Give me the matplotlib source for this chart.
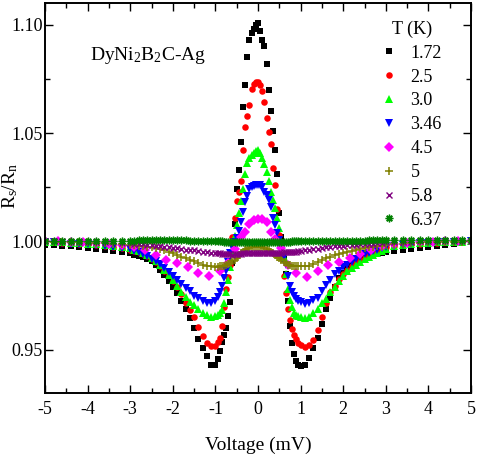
import matplotlib
matplotlib.use('Agg')
import matplotlib.pyplot as plt
from matplotlib.ticker import MultipleLocator, FormatStrFormatter

plt.rcParams['font.family'] = ['Liberation Serif', 'DejaVu Serif']
plt.rcParams['mathtext.fontset'] = 'custom'
plt.rcParams['mathtext.rm'] = 'Liberation Serif'
plt.rcParams['mathtext.it'] = 'Liberation Serif:italic'
plt.rcParams['axes.unicode_minus'] = False

# ---------------- data ----------------
voltage = [-5.0, -4.8, -4.6, -4.4, -4.2, -4.0, -3.8, -3.6, -3.4, -3.2,
           -3.0, -2.9, -2.8, -2.7, -2.6, -2.5, -2.4, -2.3, -2.2, -2.1, -2.0, -1.9, -1.8, -1.7, -1.6, -1.5, -1.4, -1.3, -1.2, -1.1, -1.0,
           -0.95, -0.9, -0.85, -0.8, -0.75, -0.7, -0.65, -0.6, -0.55, -0.5, -0.45, -0.4, -0.35, -0.3, -0.25, -0.2, -0.15, -0.1, -0.05, 0.0,
           0.05, 0.1, 0.15, 0.2, 0.25, 0.3, 0.35, 0.4, 0.45, 0.5, 0.55, 0.6, 0.65, 0.7, 0.75, 0.8, 0.85, 0.9, 0.95,
           1.0, 1.1, 1.2, 1.3, 1.4, 1.5, 1.6, 1.7, 1.8, 1.9, 2.0, 2.1, 2.2, 2.3, 2.4, 2.5, 2.6, 2.7, 2.8, 2.9, 3.0,
           3.2, 3.4, 3.6, 3.8, 4.0, 4.2, 4.4, 4.6, 4.8, 5.0]

voltage_sparse = [-5.0, -4.7, -4.4, -4.1, -3.8, -3.5, -3.2, -2.9, -2.65, -2.4, -2.15, -1.9, -1.65, -1.4, -1.15, -0.9, -0.7, -0.55,
                  -0.4, -0.3, -0.2, -0.1, 0.0, 0.1, 0.2, 0.3, 0.4,
                  0.55, 0.7, 0.9, 1.15, 1.4, 1.65, 1.9, 2.15, 2.4, 2.65, 2.9, 3.2, 3.5, 3.8, 4.1, 4.4, 4.7, 5.0]

r_172 = [0.9985, 0.9981, 0.9979, 0.9977, 0.9973, 0.9970, 0.9966, 0.9962, 0.9957, 0.9951,
         0.9944, 0.9938, 0.9932, 0.9926, 0.9920, 0.9907, 0.9890, 0.9870, 0.9845, 0.9818, 0.9790, 0.9760, 0.9725, 0.9690, 0.9648, 0.9600, 0.9550, 0.9510, 0.9470, 0.9430, 0.9430,
         0.9455, 0.9495, 0.9535, 0.9570, 0.9600, 0.9655, 0.9720, 0.9900, 1.0080, 1.0240, 1.0330, 1.0460, 1.0620, 1.0720, 1.0850, 1.0930, 1.0960, 1.0980, 1.1000, 1.1010,
         1.0970, 1.0930, 1.0900, 1.0820, 1.0700, 1.0600, 1.0510, 1.0420, 1.0310, 1.0130, 1.0020, 0.9920, 0.9850, 0.9725, 0.9610, 0.9530, 0.9480, 0.9450, 0.9430,
         0.9425, 0.9430, 0.9460, 0.9510, 0.9555, 0.9620, 0.9690, 0.9740, 0.9790, 0.9830, 0.9855, 0.9875, 0.9890, 0.9905, 0.9918, 0.9927, 0.9934, 0.9939, 0.9943, 0.9946, 0.9949,
         0.9954, 0.9959, 0.9963, 0.9968, 0.9974, 0.9979, 0.9984, 0.9989, 0.9994, 0.9998]

r_25 = [0.9997, 0.9995, 0.9993, 0.9991, 0.9989, 0.9987, 0.9984, 0.9980, 0.9975, 0.9969,
        0.9962, 0.9956, 0.9950, 0.9942, 0.9932, 0.9918, 0.9905, 0.9885, 0.9865, 0.9843, 0.9818, 0.9790, 0.9755, 0.9715, 0.9682, 0.9650, 0.9605, 0.9565, 0.9530, 0.9515, 0.9518,
        0.9535, 0.9555, 0.9610, 0.9695, 0.9780, 0.9835, 0.9890, 1.0020, 1.0110, 1.0185, 1.0230, 1.0280, 1.0420, 1.0530, 1.0580, 1.0630, 1.0705, 1.0725, 1.0735, 1.0735,
        1.0720, 1.0695, 1.0645, 1.0570, 1.0505, 1.0450, 1.0340, 1.0260, 1.0150, 1.0030, 0.9930, 0.9840, 0.9760, 0.9690, 0.9635, 0.9595, 0.9570, 0.9550, 0.9530,
        0.9520, 0.9512, 0.9520, 0.9545, 0.9590, 0.9650, 0.9715, 0.9765, 0.9795, 0.9825, 0.9850, 0.9870, 0.9885, 0.9900, 0.9912, 0.9925, 0.9938, 0.9950, 0.9960, 0.9967, 0.9972,
        0.9980, 0.9985, 0.9988, 0.9990, 0.9992, 0.9994, 0.9995, 0.9997, 0.9998, 1.0000]

r_30 = [0.9998, 0.9997, 0.9996, 0.9994, 0.9992, 0.9990, 0.9988, 0.9985, 0.9980, 0.9975,
        0.9968, 0.9962, 0.9955, 0.9947, 0.9937, 0.9925, 0.9910, 0.9890, 0.9868, 0.9845, 0.9820, 0.9793, 0.9768, 0.9745, 0.9720, 0.9705, 0.9690, 0.9670, 0.9660, 0.9650, 0.9655,
        0.9660, 0.9670, 0.9685, 0.9715, 0.9765, 0.9820, 0.9880, 0.9950, 1.0025, 1.0075, 1.0130, 1.0185, 1.0240, 1.0310, 1.0360, 1.0385, 1.0400, 1.0410, 1.0415, 1.0420,
        1.0410, 1.0385, 1.0355, 1.0320, 1.0280, 1.0230, 1.0190, 1.0153, 1.0110, 1.0060, 1.0000, 0.9930, 0.9850, 0.9780, 0.9730, 0.9695, 0.9670, 0.9660, 0.9655,
        0.9650, 0.9648, 0.9650, 0.9670, 0.9690, 0.9715, 0.9735, 0.9765, 0.9790, 0.9815, 0.9840, 0.9862, 0.9878, 0.9890, 0.9905, 0.9917, 0.9928, 0.9938, 0.9948, 0.9957, 0.9965,
        0.9977, 0.9985, 0.9989, 0.9991, 0.9993, 0.9995, 0.9996, 0.9997, 0.9998, 1.0000]

r_346 = [0.9996, 0.9995, 0.9993, 0.9990, 0.9988, 0.9986, 0.9983, 0.9980, 0.9975, 0.9970,
         0.9963, 0.9957, 0.9950, 0.9942, 0.9932, 0.9920, 0.9908, 0.9895, 0.9878, 0.9860, 0.9840, 0.9820, 0.9805, 0.9785, 0.9770, 0.9750, 0.9737, 0.9725, 0.9717, 0.9715, 0.9725,
         0.9745, 0.9765, 0.9795, 0.9830, 0.9865, 0.9905, 0.9945, 0.9975, 0.9995, 1.0015, 1.0050, 1.0090, 1.0135, 1.0180, 1.0210, 1.0240, 1.0250, 1.0257, 1.0260, 1.0260,
         1.0258, 1.0250, 1.0230, 1.0214, 1.0190, 1.0160, 1.0110, 1.0075, 1.0040, 1.0005, 0.9970, 0.9930, 0.9890, 0.9840, 0.9795, 0.9765, 0.9750, 0.9735, 0.9725,
         0.9720, 0.9713, 0.9715, 0.9727, 0.9740, 0.9770, 0.9797, 0.9820, 0.9850, 0.9865, 0.9880, 0.9893, 0.9905, 0.9917, 0.9930, 0.9940, 0.9947, 0.9955, 0.9962, 0.9968, 0.9973,
         0.9980, 0.9985, 0.9989, 0.9991, 0.9993, 0.9995, 0.9996, 0.9997, 0.9998, 1.0000]

r_45 = [1.0000, 1.0000, 0.9998, 0.9995, 0.9993, 0.9990, 0.9985, 0.9975, 0.9960, 0.9937, 0.9915, 0.9898, 0.9880, 0.9855, 0.9838, 0.9862, 0.9900, 0.9965,
        1.0020, 1.0045, 1.0080, 1.0098, 1.0105, 1.0103, 1.0088, 1.0045, 1.0010,
        0.9968, 0.9890, 0.9855, 0.9836, 0.9865, 0.9890, 0.9905, 0.9922, 0.9942, 0.9960, 0.9978, 0.9988, 0.9993, 0.9996, 0.9998, 1.0000, 1.0000, 1.0000]

r_5 = [1.0000, 0.9999, 0.9998, 0.9997, 0.9996, 0.9995, 0.9993, 0.9992, 0.9990, 0.9988,
       0.9985, 0.9983, 0.9980, 0.9977, 0.9975, 0.9972, 0.9968, 0.9964, 0.9960, 0.9953, 0.9945, 0.9938, 0.9930, 0.9923, 0.9915, 0.9908, 0.9900, 0.9893, 0.9888, 0.9885, 0.9883,
       0.9883, 0.9884, 0.9886, 0.9888, 0.9890, 0.9895, 0.9900, 0.9908, 0.9915, 0.9925, 0.9935, 0.9945, 0.9953, 0.9960, 0.9965, 0.9970, 0.9973, 0.9975, 0.9976, 0.9976,
       0.9975, 0.9973, 0.9970, 0.9966, 0.9960, 0.9953, 0.9946, 0.9938, 0.9930, 0.9922, 0.9915, 0.9905, 0.9898, 0.9893, 0.9890, 0.9887, 0.9885, 0.9884, 0.9884,
       0.9884, 0.9885, 0.9888, 0.9895, 0.9905, 0.9913, 0.9922, 0.9930, 0.9936, 0.9940, 0.9945, 0.9951, 0.9956, 0.9960, 0.9965, 0.9969, 0.9973, 0.9976, 0.9979, 0.9980, 0.9982,
       0.9986, 0.9989, 0.9991, 0.9993, 0.9995, 0.9996, 0.9997, 0.9998, 0.9999, 1.0000]

r_58 = [1.0000, 1.0000, 1.0000, 0.9999, 0.9999, 0.9998, 0.9997, 0.9996, 0.9995, 0.9993,
        0.9991, 0.9990, 0.9988, 0.9986, 0.9984, 0.9982, 0.9980, 0.9978, 0.9975, 0.9972, 0.9970, 0.9968, 0.9965, 0.9962, 0.9960, 0.9958, 0.9955, 0.9953, 0.9950, 0.9948, 0.9946,
        0.9945, 0.9944, 0.9943, 0.9942, 0.9941, 0.9940, 0.9940, 0.9939, 0.9940, 0.9941, 0.9942, 0.9943, 0.9944, 0.9945, 0.9945, 0.9946, 0.9946, 0.9946, 0.9946, 0.9946,
        0.9946, 0.9946, 0.9946, 0.9946, 0.9946, 0.9946, 0.9946, 0.9946, 0.9947, 0.9947, 0.9948, 0.9949, 0.9950, 0.9950, 0.9951, 0.9952, 0.9953, 0.9953, 0.9954,
        0.9955, 0.9958, 0.9960, 0.9963, 0.9966, 0.9969, 0.9972, 0.9975, 0.9977, 0.9978, 0.9980, 0.9982, 0.9983, 0.9985, 0.9986, 0.9988, 0.9989, 0.9990, 0.9992, 0.9993, 0.9995,
        0.9997, 0.9998, 0.9999, 1.0000, 1.0000, 1.0000, 1.0000, 1.0000, 1.0000, 1.0000]

r_637 = [1.0002, 1.0002, 1.0002, 1.0003, 1.0003, 1.0003, 1.0003, 1.0003, 1.0003, 1.0003,
         1.0003, 1.0003, 1.0004, 1.0004, 1.0004, 1.0004, 1.0004, 1.0004, 1.0004, 1.0004, 1.0004, 1.0004, 1.0004, 1.0004, 1.0003, 1.0003, 1.0003, 1.0002, 1.0002, 1.0001, 1.0001,
         1.0001, 1.0000, 1.0000, 0.9999, 0.9999, 0.9998, 0.9998, 0.9997, 0.9997, 0.9996, 0.9996, 0.9996, 0.9995, 0.9995, 0.9995, 0.9995, 0.9995, 0.9995, 0.9995, 0.9995,
         0.9995, 0.9995, 0.9995, 0.9995, 0.9995, 0.9995, 0.9996, 0.9996, 0.9996, 0.9997, 0.9997, 0.9998, 0.9998, 0.9999, 0.9999, 1.0000, 1.0000, 1.0001, 1.0001,
         1.0001, 1.0002, 1.0002, 1.0003, 1.0003, 1.0003, 1.0003, 1.0003, 1.0003, 1.0003, 1.0003, 1.0003, 1.0003, 1.0003, 1.0003, 1.0003, 1.0004, 1.0004, 1.0004, 1.0004, 1.0004,
         1.0004, 1.0004, 1.0005, 1.0005, 1.0006, 1.0006, 1.0006, 1.0007, 1.0007, 1.0008]

temperatures = ['1.72', '2.5', '3.0', '3.46', '4.5', '5', '5.8', '6.37']
x_ticks = [-5, -4, -3, -2, -1, 0, 1, 2, 3, 4, 5]
y_ticks = [0.95, 1.00, 1.05, 1.10]

# ---------------- plot ----------------
fig = plt.figure(figsize=(4.79, 4.58), dpi=100)
ax = fig.add_axes([45 / 479, 1 - 393 / 458, 426 / 479, 390 / 458])

styles = [
    (voltage, r_172, dict(marker='s', color='black', ms=4.3, mew=0)),
    (voltage, r_25, dict(marker='o', color='red', ms=4.7, mew=0)),
    (voltage, r_30, dict(marker='^', color='#00ff00', ms=5.3, mew=0)),
    (voltage, r_346, dict(marker='v', color='blue', ms=5.3, mew=0)),
    (voltage_sparse, r_45, dict(marker='D', color='magenta', ms=4.6, mew=0)),
    (voltage, r_5, dict(marker='+', color='#808000', ms=5.5, mew=1.1)),
    (voltage, r_58, dict(marker='x', color='#800080', ms=4.5, mew=1.0)),
    (voltage, r_637, dict(marker=(8, 2, 0), color='#008000', ms=5.5, mew=1.0)),
]
for (xs, ys, st), lab in zip(styles, temperatures):
    ax.plot(xs, ys, linestyle='none', label=lab, **st)

ax.set_xlim(-5, 5)
ax.set_ylim(0.93, 1.11)
ax.set_xticks(x_ticks)
ax.set_yticks(y_ticks)
ax.xaxis.set_minor_locator(MultipleLocator(0.5))
ax.yaxis.set_minor_locator(MultipleLocator(0.025))
ax.yaxis.set_major_formatter(FormatStrFormatter('%.2f'))
ax.tick_params(which='both', direction='in', top=True, right=True, width=1.0, labelsize=13)
ax.tick_params(which='major', length=6)
ax.tick_params(which='minor', length=3.5)
ax.tick_params(axis='x', pad=6)
ax.tick_params(axis='y', pad=1.5)
for s in ax.spines.values():
    s.set_linewidth(1.4)

ax.set_xlabel('Voltage (mV)', fontsize=14)
ax.xaxis.set_label_coords(0.5, -0.112)
ax.set_ylabel(r'R$_\mathrm{s}$/R$_\mathrm{n}$', fontsize=14)
ax.yaxis.set_label_coords(-0.058, 0.53)

ax.text(-3.95, 1.0838, r'DyNi$_2$B$_2$C-Ag', fontsize=14, va='baseline', ha='left')

leg = ax.legend(title='T (K)', frameon=False, loc='upper left', bbox_to_anchor=(0.79, 0.955),
                fontsize=13, title_fontsize=13, handlelength=0.8, handletextpad=0.8,
                labelspacing=0.38, borderpad=0, numpoints=1, borderaxespad=0)

fig.savefig('out.png', dpi=100)
